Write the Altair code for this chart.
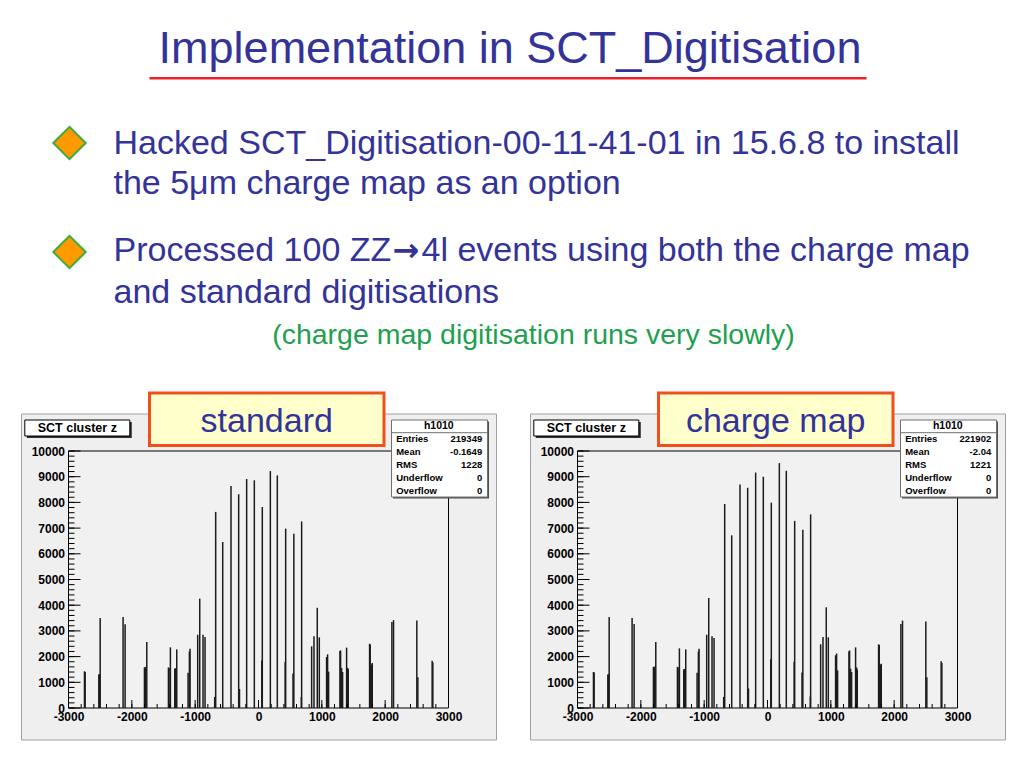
import altair as alt
import pandas as pd

# ---------------- text content ----------------
title_text = "Implementation in SCT_Digitisation"
bullet1_lines = ["Hacked SCT_Digitisation-00-11-41-01 in 15.6.8 to install",
                 "the 5\u03bcm charge map as an option"]
bullet2_parts = ["Processed 100 ZZ", "\u2192", "4l events using both the charge map"]
bullet2_line2 = "and standard digitisations"
note_text = "(charge map digitisation runs very slowly)"

panel_labels = ["standard", "charge map"]
hist_title = "SCT cluster z"
stats_name = "h1010"
stats_keys = ["Entries", "Mean", "RMS", "Underflow", "Overflow"]
stats_standard = ["219349", "-0.1649", "1228", "0", "0"]
stats_charge = ["221902", "-2.04", "1221", "0", "0"]

# ---------------- histogram data ----------------
z_pos = [-2748, -2737, -2521, -2510, -2500, -2138, -2106, -1801, -1785, -1764,
         -1422, -1412, -1391, -1322, -1312, -1291, -1112, -1091, -1081, -960,
         -928, -876, -844, -692, -676, -565, -434, -313, -300, -187,
         -66, 52, 60, 187, 297, 421, 429, 545, 558, 676,
         681, 839, 876, 928, 960, 1075, 1091, 1107, 1286, 1296,
         1312, 1328, 1391, 1407, 1417, 1754, 1764, 1785, 1796, 2106,
         2132, 2500, 2516, 2742, 2753]
counts_standard = [1430, 1400, 1300, 1320, 3500, 3540, 3255, 1580, 1600, 2570,
                   1580, 1560, 2360, 1530, 1550, 2280, 1375, 2200, 2310, 2850,
                   4255, 2850, 2760, 430, 7630, 6460, 8640, 8315, 740, 8910,
                   8860, 1850, 7820, 9220, 9050, 1790, 6980, 1340, 6780, 430,
                   7260, 2400, 2790, 3900, 2750, 1985, 2090, 1415, 2220, 2240,
                   1560, 1400, 2350, 1560, 1520, 2500, 2470, 1690, 1750, 3350,
                   3420, 3400, 1200, 1840, 1770]
counts_charge = [1400, 1380, 1300, 1310, 3540, 3500, 3270, 1600, 1610, 2570,
                 1600, 1580, 2320, 1500, 1520, 2280, 1375, 2200, 2310, 2850,
                 4280, 2790, 2720, 430, 7940, 6720, 8700, 8570, 760, 9160,
                 9000, 1900, 7990, 9530, 9230, 1800, 7280, 1380, 6940, 450,
                 7535, 2480, 2760, 3920, 2750, 2050, 2120, 1465, 2200, 2240,
                 1530, 1400, 2360, 1580, 1500, 2480, 2450, 1690, 1720, 3270,
                 3400, 3370, 1200, 1815, 1750]

x_labels = [-3000, -2000, -1000, 0, 1000, 2000, 3000]
y_labels = [0, 1000, 2000, 3000, 4000, 5000, 6000, 7000, 8000, 9000, 10000]
x_minor = list(range(-3000, 3001, 200))
y_minor = list(range(0, 10001, 200))

FONT = "Liberation Sans, Arial, Helvetica, sans-serif"
BLUE = "#333399"
dummy = pd.DataFrame({"a": [0]})


def vtext(text, x, y, **kw):
    kw.setdefault("font", FONT)
    return alt.Chart(dummy).mark_text(text=text, **kw).encode(
        x=alt.value(x), y=alt.value(y))


def vrect(x, x2, y, y2, **kw):
    return alt.Chart(dummy).mark_rect(**kw).encode(
        x=alt.value(x), x2=alt.value(x2), y=alt.value(y), y2=alt.value(y2))


def vrule(x, x2, y, y2, **kw):
    return alt.Chart(dummy).mark_rule(**kw).encode(
        x=alt.value(x), x2=alt.value(x2), y=alt.value(y), y2=alt.value(y2))


# ---------------- header (origin sits at the left plot's x origin) ----------------
OX = -47.5  # header x offset
header_layers = [
    vtext(title_text, 489 + OX, 54, fontSize=45, color=BLUE, align="center", baseline="alphabetic"),
    vrule(128.5 + OX, 845.5 + OX, 69.3, 69.3, color="#e8202a", strokeWidth=2.5),
]
for cy in (134, 243):
    header_layers.append(
        alt.Chart(dummy).mark_point(shape="diamond", filled=True, color="#ff9900",
                                    stroke="#3cab3c", strokeWidth=2, size=1050, opacity=1)
        .encode(x=alt.value(48.5 + OX), y=alt.value(cy)))
for line, by in zip(bullet1_lines, [145.3, 184.7]):
    header_layers.append(vtext(line, 92.5 + OX, by, fontSize=34, color=BLUE, align="left", baseline="alphabetic"))
header_layers.append(vtext(bullet2_parts[0], 92.5 + OX, 252, fontSize=34, color=BLUE, align="left", baseline="alphabetic"))
header_layers.append(vtext(bullet2_parts[1], 371.5 + OX, 252, font="DejaVu Sans", fontWeight="bold",
                           fontSize=32, color=BLUE, align="left", baseline="alphabetic"))
header_layers.append(vtext(bullet2_parts[2], 400.5 + OX, 252, fontSize=34, color=BLUE, align="left", baseline="alphabetic"))
header_layers.append(vtext(bullet2_line2, 92.5 + OX, 293.7, fontSize=34, color=BLUE, align="left", baseline="alphabetic"))
header_layers.append(vtext(note_text, 512.5 + OX, 335.3, fontSize=28.5, color="#1ea04e",
                           align="center", baseline="alphabetic"))
header = alt.layer(*header_layers).properties(width=935, height=381)

# ---------------- histogram panels ----------------
W, H = 380, 257
xs = alt.Scale(domain=[-3000, 3000], nice=False, zero=False)
ys = alt.Scale(domain=[0, 10000], nice=False)
axis_common = dict(ticks=False, domain=False, grid=False, labelFont=FONT, labelFontSize=12,
                   labelFontWeight="bold", labelColor="black", title="", zindex=1,
                   labelFlush=False, labelOverlap=False, labelExpr="'' + datum.value")
x_axis = alt.Axis(values=x_labels, labelPadding=3, **axis_common)
y_axis = alt.Axis(values=y_labels, labelPadding=4, **axis_common)


def panel(label, counts, stats_vals):
    df = pd.DataFrame({"z": z_pos, "count": counts})
    layers = []
    # canvas background
    layers.append(vrect(-47, 428, -37, 289, fill="#efefef", stroke="#a0a0a0", strokeWidth=1))
    # frame background
    layers.append(vrect(0, W, 0, H, fill="#f1f1f1", stroke="black", strokeWidth=1))
    # spikes
    layers.append(alt.Chart(df).mark_rule(color="#1c1c1c", strokeWidth=1.5).encode(
        x=alt.X("z:Q", scale=xs, axis=x_axis),
        y=alt.Y("count:Q", scale=ys, axis=y_axis),
        y2=alt.datum(0)))
    # inward ticks
    layers.append(alt.Chart(pd.DataFrame({"z": x_labels})).mark_rule(color="black", strokeWidth=1)
                  .encode(x=alt.X("z:Q", scale=xs, axis=x_axis), y=alt.value(H), y2=alt.value(H - 8)))
    layers.append(alt.Chart(pd.DataFrame({"z": x_minor})).mark_rule(color="black", strokeWidth=1)
                  .encode(x=alt.X("z:Q", scale=xs, axis=x_axis), y=alt.value(H), y2=alt.value(H - 4)))
    layers.append(alt.Chart(pd.DataFrame({"count": y_labels})).mark_rule(color="black", strokeWidth=1)
                  .encode(y=alt.Y("count:Q", scale=ys, axis=y_axis), x=alt.value(0), x2=alt.value(12)))
    layers.append(alt.Chart(pd.DataFrame({"count": y_minor})).mark_rule(color="black", strokeWidth=1)
                  .encode(y=alt.Y("count:Q", scale=ys, axis=y_axis), x=alt.value(0), x2=alt.value(6)))
    # histogram title box
    layers.append(vrect(-41.7, 63.3, -29, -13, fill="#303030"))
    layers.append(vrect(-43.7, 61.3, -31, -15, fill="white", stroke="black", strokeWidth=1))
    layers.append(vtext(hist_title, 8.8, -23, fontSize=12.5, fontWeight="bold", color="black",
                        align="center", baseline="middle"))
    # stats box
    layers.append(vrect(324.5, 420.5, -29.5, 47.5, fill="#505050"))
    layers.append(vrect(323, 419, -31, 46, fill="white", stroke="#707070", strokeWidth=1))
    layers.append(vrule(323, 419, -18.3, -18.3, color="#707070", strokeWidth=1))
    layers.append(vtext(stats_name, 370.3, -25, fontSize=10.5, fontWeight="bold", color="black",
                        align="center", baseline="middle"))
    for i, (k, v) in enumerate(zip(stats_keys, stats_vals)):
        yy = -11.7 + 13 * i
        layers.append(vtext(k, 327.7, yy, fontSize=9.5, fontWeight="bold", color="black",
                            align="left", baseline="middle"))
        layers.append(vtext(v, 413.7, yy, fontSize=9.5, fontWeight="bold", color="black",
                            align="right", baseline="middle"))
    # label box
    layers.append(vrect(81, 315.5, -58, -5.5, fill="#ffffcc", stroke="#f0501e", strokeWidth=3))
    layers.append(vtext(label, 198.2, -19, fontSize=34, color=BLUE, align="center", baseline="alphabetic"))
    return alt.layer(*layers).properties(width=W, height=H)


left = panel(panel_labels[0], counts_standard, stats_standard)
right = panel(panel_labels[1], counts_charge, stats_charge)
row = alt.hconcat(left, right, spacing=32)

chart = alt.vconcat(header, row, spacing=0).properties(
    padding={"left": 12.5, "top": 0, "right": 0, "bottom": 0},
    background="white",
).configure_view(stroke="transparent")

chart.save("out.html", embed_options={"renderer": "svg", "actions": False})
